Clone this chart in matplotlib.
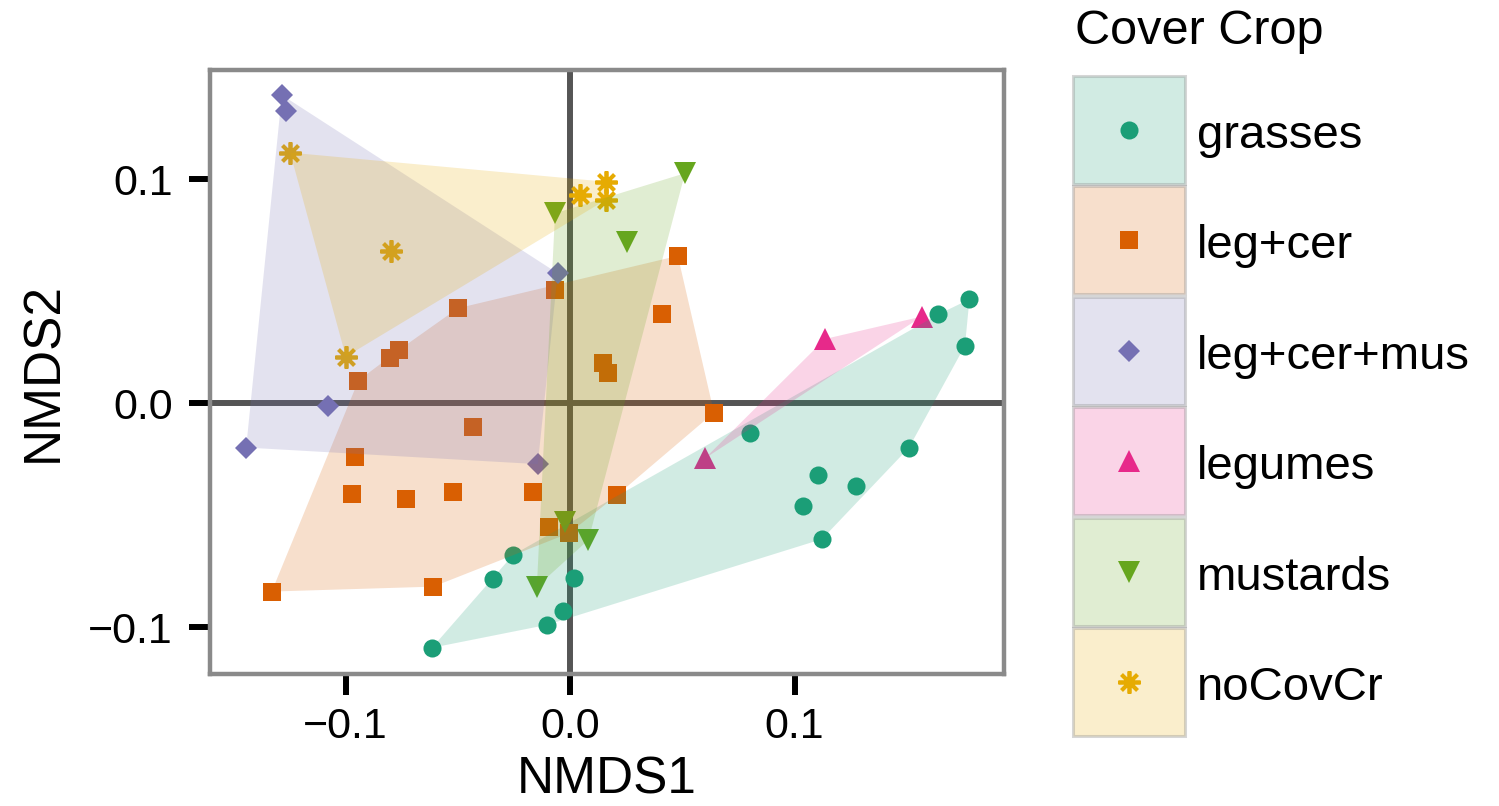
import matplotlib
matplotlib.use("Agg")
import matplotlib.pyplot as plt
from matplotlib.patches import Rectangle, Polygon
from matplotlib.lines import Line2D
from matplotlib.legend_handler import HandlerBase

plt.rcParams['font.family'] = ['Liberation Sans', 'DejaVu Sans']

# ---------------- data ----------------
groups = ["grasses", "leg+cer", "leg+cer+mus", "legumes", "mustards", "noCovCr"]
colors = ["#1b9e77", "#d95f02", "#7570b3", "#e7298a", "#66a61e", "#e6ab02"]

grasses_x = [-0.0615, -0.0343, -0.0254, -0.0104, -0.0031, 0.0018, 0.0802, 0.1106,
             0.1037, 0.1274, 0.1122, 0.1510, 0.1641, 0.1779, 0.1759]
grasses_y = [-0.1092, -0.0784, -0.0677, -0.0990, -0.0926, -0.0780, -0.0134, -0.0320,
             -0.0457, -0.0369, -0.0607, -0.0198, 0.0397, 0.0464, 0.0257]

legcer_x = [0.0480, 0.0411, -0.0067, -0.0500, -0.0762, -0.0802, -0.0943, 0.0148, 0.0168,
            0.0641, -0.0433, -0.0958, -0.0972, -0.0731, -0.0520, -0.0166, 0.0211,
            -0.0094, -0.0004, -0.0609, -0.1329]
legcer_y = [0.0658, 0.0399, 0.0506, 0.0424, 0.0238, 0.0204, 0.0101, 0.0179, 0.0134,
            -0.0042, -0.0104, -0.0238, -0.0406, -0.0429, -0.0395, -0.0397, -0.0409,
            -0.0554, -0.0580, -0.0819, -0.0841]

legcermus_x = [-0.1284, -0.1265, -0.0055, -0.1079, -0.1443, -0.0144]
legcermus_y = [0.1376, 0.1306, 0.0580, -0.0011, -0.0198, -0.0272]

legumes_x = [0.1136, 0.1567, 0.0601]
legumes_y = [0.0287, 0.0387, -0.0246]

mustards_x = [0.0512, 0.0253, -0.0067, -0.0022, 0.0082, -0.0148]
mustards_y = [0.1027, 0.0721, 0.0848, -0.0529, -0.0610, -0.0819]

nocov_x = [-0.1247, -0.0799, -0.0999, 0.0045, 0.0159, 0.0159]
nocov_y = [0.1119, 0.0681, 0.0208, 0.0930, 0.0989, 0.0908]

xs_all = [grasses_x, legcer_x, legcermus_x, legumes_x, mustards_x, nocov_x]
ys_all = [grasses_y, legcer_y, legcermus_y, legumes_y, mustards_y, nocov_y]

ticks = [-0.1, 0.0, 0.1]

# ---------------- styles ----------------
mstyles = [
    dict(marker='o', markersize=13, markeredgewidth=0),
    dict(marker='s', markersize=12.5, markeredgewidth=0),
    dict(marker='D', markersize=11.3, markeredgewidth=0),
    dict(marker='^', markersize=16.5, markeredgewidth=0),
    dict(marker='v', markersize=16.5, markeredgewidth=0),
    dict(marker=(8, 2, 0), markersize=16, markeredgewidth=2.7),
]


def convex_hull(xs, ys):
    pts = sorted(set(zip(xs, ys)))
    if len(pts) < 3:
        return pts

    def cross(o, a, b):
        return (a[0] - o[0]) * (b[1] - o[1]) - (a[1] - o[1]) * (b[0] - o[0])

    lower = []
    for p in pts:
        while len(lower) >= 2 and cross(lower[-2], lower[-1], p) <= 0:
            lower.pop()
        lower.append(p)
    upper = []
    for p in reversed(pts):
        while len(upper) >= 2 and cross(upper[-2], upper[-1], p) <= 0:
            upper.pop()
        upper.append(p)
    return lower[:-1] + upper[:-1]


def marker_kw(color, style):
    kw = dict(style)
    if kw['marker'] == (8, 2, 0):
        return dict(linestyle='none', color=color, markeredgecolor=color, **kw)
    return dict(linestyle='none', color=color, markerfacecolor=color, **kw)


fig = plt.figure(figsize=(14.99, 8.06), dpi=100)
ax = fig.add_axes([0.1401, 0.1638, 0.5297, 0.7494])

ax.axhline(0, color='#555555', lw=4.3, zorder=1)
ax.axvline(0, color='#555555', lw=4.3, zorder=1)

for xs, ys, c, ms in zip(xs_all, ys_all, colors, mstyles):
    ax.plot(xs, ys, zorder=2, **marker_kw(c, ms))

for xs, ys, c in zip(xs_all, ys_all, colors):
    h = convex_hull(xs, ys)
    ax.add_patch(Polygon(h, closed=True, facecolor=c, alpha=0.2, edgecolor='none', zorder=3))

ax.set_xlim(-0.1604, 0.1933)
ax.set_ylim(-0.1209, 0.1488)
ax.set_xticks(ticks)
ax.set_yticks(ticks)
ax.tick_params(axis='both', which='major', labelsize=31, length=15, width=4.3,
               color='black', pad=9)
ax.tick_params(axis='y', pad=12)
for sp in ax.spines.values():
    sp.set_color('#8a8a8a')
    sp.set_linewidth(3.2)

ax.set_xlabel("NMDS1", fontsize=37, labelpad=6)
ax.set_ylabel("NMDS2", fontsize=37, labelpad=14)


# ---------------- legend ----------------
class Key:
    def __init__(self, color, style):
        self.color = color
        self.style = style


class BoxMarkerHandler(HandlerBase):
    def create_artists(self, legend, orig_handle, xdescent, ydescent, width, height,
                       fontsize, trans):
        s = 3.0  # shift up (points)
        rect = Rectangle((-xdescent, -ydescent + s), width, height,
                         facecolor=(*matplotlib.colors.to_rgb(orig_handle.color), 0.2),
                         edgecolor=(0.55, 0.55, 0.55, 0.35), lw=2.2, transform=trans)
        cx = width / 2 - xdescent
        cy = height / 2 - ydescent + s
        mk = Line2D([cx], [cy], **marker_kw(orig_handle.color, orig_handle.style))
        mk.set_transform(trans)
        return [rect, mk]


keys = [Key(c, s) for c, s in zip(colors, mstyles)]
fs_leg = 34
fs_px = fs_leg * 100 / 72
# total handle box height H (px): fs*hh - 0.35*fs*(hh-0.7) = H
H = 108.0
hh = (H / fs_px - 0.245) / 0.65
leg = fig.legend(keys, groups, handler_map={Key: BoxMarkerHandler()},
                 loc='upper left', bbox_to_anchor=(1073 / 1499, 1 - 80 / 806),
                 frameon=False, fontsize=fs_leg, borderpad=0, borderaxespad=0,
                 handlelength=112 / fs_px, handleheight=hh,
                 labelspacing=2.5 / fs_px, handletextpad=12 / fs_px)

fig.text(1075 / 1499, 1 - 9 / 806, "Cover Crop", fontsize=35, ha='left', va='top')

fig.savefig("out.png", dpi=100)
